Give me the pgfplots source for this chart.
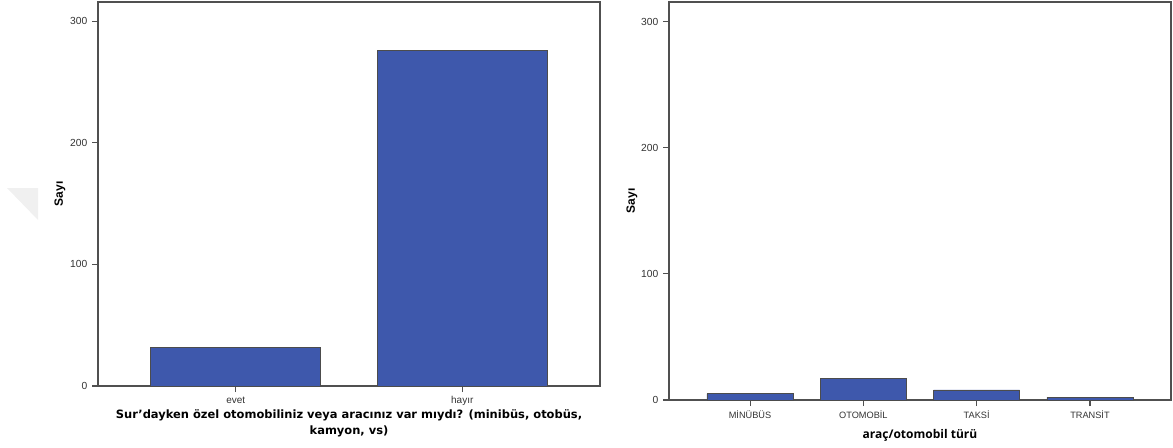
\documentclass[border=0pt]{standalone}
\usepackage{pgfplots}
\pgfplotsset{compat=1.18}
\usepackage{fontspec}
\setmainfont{Liberation Sans}
\newfontfamily\verdana{DejaVu Sans}
\newfontfamily\segoe{Open Sans}
\definecolor{barblue}{RGB}{62,88,172}
\definecolor{axgray}{RGB}{80,80,80}
\pgfplotsset{
  spssax/.style={
    scale only axis, anchor=south west, ybar, enlargelimits=false,
    ymin=0, ymax=315.7, ytick={0,100,200,300},
    axis line style={axgray, line width=0.8pt},
    tick style={axgray, line width=0.8pt},
    tick align=outside, xtick pos=left, ytick pos=left,
    major tick length=4.5pt,
    xtick=data,
    /pgf/number format/assume math mode=true,
    yticklabel style={font=\fontsize{7.7}{8}\selectfont, text=black!80},
    xticklabel style={text=black!80},
    ylabel={Sayı},
    ylabel style={font=\bfseries\fontsize{9}{10}\selectfont},
  },
  spssbar/.style={fill=barblue, draw=black!70, line width=0.6pt},
}
\begin{document}
\begin{tikzpicture}
\path[use as bounding box] (0pt,0pt) rectangle (879.75pt,335.25pt);
\fill[black!6] (5.25pt,194.25pt) -- (28.5pt,194.25pt) -- (28.5pt,170.25pt) -- cycle;
\begin{axis}[spssax,
  at={(73.5pt,45.75pt)}, width=376.5pt, height=288pt,
  xmin=-0.608, xmax=1.608, bar width=0.75,
  xticklabels={evet,hayır},
  xticklabel style={font=\fontsize{7.5}{8}\selectfont},
  ylabel style={at={(axis description cs:-0.0757,0.5)}, anchor=center},
  xlabel={Sur’dayken özel otomobiliniz veya aracınız var mıydı? (minibüs, otobüs,\\kamyon, vs)},
  xlabel style={font=\verdana\bfseries\fontsize{8.6}{12}\selectfont, align=center,
    at={(axis description cs:0.5,-0.05)}, anchor=north},
]
\addplot[spssbar] coordinates {(0,32) (1,276)};
\end{axis}
\begin{axis}[spssax,
  at={(501.75pt,35.25pt)}, width=376.5pt, height=298.5pt,
  xmin=-0.715, xmax=3.715, bar width=0.76,
  xticklabels={MİNÜBÜS,OTOMOBİL,TAKSİ,TRANSİT},
  xticklabel style={font=\fontsize{6.9}{8}\selectfont},
  ylabel style={at={(axis description cs:-0.0737,0.5)}, anchor=center},
  xlabel={araç/otomobil türü},
  xlabel style={font=\segoe\bfseries\fontsize{9}{10}\selectfont,
    at={(axis description cs:0.5,-0.062)}, anchor=north},
]
\addplot[spssbar] coordinates {(0,5) (1,17) (2,8) (3,2)};
\end{axis}
\end{tikzpicture}
\end{document}
